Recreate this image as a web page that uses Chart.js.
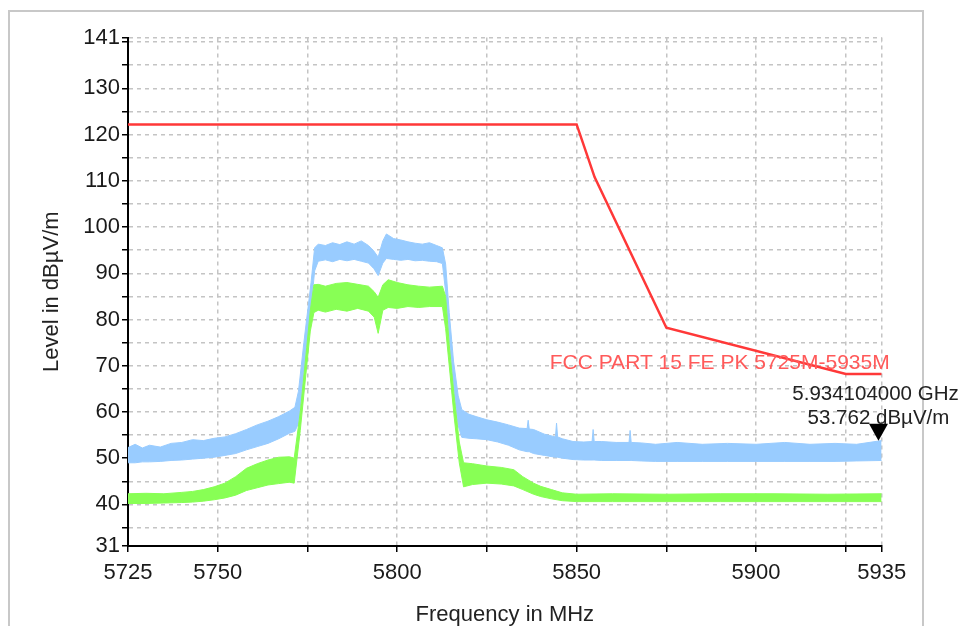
<!DOCTYPE html>
<html>
<head>
<meta charset="utf-8">
<script src="https://cdn.jsdelivr.net/npm/chart.js@4/dist/chart.umd.min.js"></script>
<style>
  html, body { margin: 0; padding: 0; background: #fff; }
  #wrap { position: relative; width: 966px; height: 626px; overflow: hidden; }
  #frame { position: absolute; left: 8px; top: 10px; width: 912px; height: 700px; border: 2px solid #c8c8c8; }
  canvas { position: absolute; left: 0; top: 0; }
</style>
</head>
<body>
<div id="wrap">
  <div id="frame"></div>
  <canvas id="spectrum" width="966" height="626"></canvas>
</div>
<script>
// limit line (FCC part 15 peak mask)
const limitName = 'FCC PART 15 FE PK 5725M-5935M';
const limitFreq = [5725, 5850, 5855, 5875, 5925, 5935];
const limitLevel = [122.2, 122.2, 110.8, 78.2, 68.2, 68.2];

// blue trace, read as upper / lower edge of the noise band
const blueFreq = [5725, 5727, 5729, 5731, 5734, 5737, 5740, 5743, 5746, 5749, 5752, 5755, 5758, 5761, 5764, 5767, 5770,
  5771.5, 5772.5, 5774, 5776, 5777, 5778, 5780, 5782, 5784, 5786, 5788, 5790, 5792, 5793.5, 5794.7, 5796, 5797, 5799,
  5801, 5803, 5805, 5807, 5809, 5811, 5812.6, 5813.5, 5814.5, 5815.7, 5817, 5818, 5820, 5822, 5825, 5828, 5831, 5834,
  5836.2, 5836.5, 5836.8, 5838, 5841, 5844.1, 5844.4, 5844.7, 5846, 5849, 5852, 5854.3, 5854.6, 5854.9, 5857, 5861,
  5864.6, 5864.9, 5865.2, 5868, 5872, 5878, 5885, 5892, 5900, 5908, 5915, 5922, 5928, 5935];
const blueTop = [52.3, 53.0, 52.2, 52.8, 52.4, 53.2, 53.4, 54.0, 53.8, 54.3, 54.6, 55.3, 56.2, 57.2, 58.0, 59.0, 60.2,
  61.0, 64.5, 75.0, 88.0, 95.5, 96.3, 96.0, 96.6, 96.2, 96.8, 96.3, 97.0, 96.0, 94.8, 93.5, 97.0, 98.5, 97.5,
  97.2, 96.8, 96.5, 96.3, 96.6, 96.0, 95.5, 92.0, 81.5, 71.0, 63.5, 60.5, 59.5, 59.0, 58.3, 57.8, 57.2, 56.5,
  56.4, 58.2, 56.3, 56.2, 55.2, 54.6, 57.6, 54.6, 54.2, 53.6, 53.5, 53.6, 56.2, 53.6, 53.6, 53.4,
  53.4, 56.0, 53.4, 53.3, 53.0, 53.4, 53.0, 53.2, 53.0, 53.4, 53.0, 53.2, 53.0, 53.8];
const blueBottom = [49.0, 49.0, 49.2, 49.2, 49.3, 49.5, 49.6, 49.8, 50.0, 50.2, 50.6, 51.0, 51.8, 52.5, 53.2, 54.2, 55.4,
  55.8, 57.5, 68.5, 82.5, 90.5, 92.6, 92.9, 92.5, 93.0, 92.7, 93.0, 92.6, 92.2, 91.0, 89.5, 92.2, 93.2, 93.0,
  92.8, 93.0, 92.7, 92.8, 92.6, 92.5, 92.1, 86.0, 76.0, 65.5, 57.0, 54.5, 54.3, 54.2, 54.0, 53.5, 52.8, 51.8,
  51.4, 51.4, 51.4, 51.0, 50.6, 50.2, 50.2, 50.2, 50.0, 49.7, 49.6, 49.6, 49.6, 49.6, 49.5, 49.5,
  49.5, 49.5, 49.5, 49.4, 49.3, 49.3, 49.3, 49.3, 49.3, 49.3, 49.3, 49.3, 49.4, 49.5];

// green trace, upper / lower edge of the noise band
const greenFreq = [5725, 5730, 5735, 5740, 5743, 5746, 5749, 5752, 5755, 5758, 5761, 5764, 5767, 5770, 5771.3,
  5773, 5774.8, 5775.8, 5776.8, 5778, 5780, 5783, 5786, 5789, 5792, 5793.6, 5794.7, 5796, 5797.5, 5800, 5803,
  5806, 5809, 5812.6, 5813.5, 5814.5, 5815.8, 5817.3, 5818.5, 5821, 5825, 5829, 5832.5, 5835, 5838, 5840, 5843,
  5846, 5850, 5860, 5875, 5890, 5905, 5920, 5935];
const greenTop = [42.3, 42.4, 42.3, 42.6, 42.8, 43.2, 43.8, 44.6, 46.0, 47.8, 48.8, 49.6, 50.2, 50.3, 50.0,
  60.0, 74.0, 82.0, 87.5, 87.6, 87.2, 87.8, 88.0, 87.6, 87.2, 86.0, 84.8, 87.5, 88.6, 88.0, 87.5,
  87.2, 87.0, 87.2, 85.0, 74.5, 64.0, 53.5, 49.0, 48.8, 48.3, 48.0, 47.5, 46.0, 44.6, 43.9, 43.2,
  42.5, 42.2, 42.3, 42.2, 42.3, 42.3, 42.2, 42.3];
const greenBottom = [40.2, 40.2, 40.3, 40.4, 40.5, 40.7, 41.0, 41.4, 42.0, 43.0, 43.6, 44.2, 44.5, 44.8, 44.6,
  56.0, 70.0, 77.5, 81.5, 82.0, 81.6, 82.2, 81.8, 82.4, 81.8, 80.5, 77.0, 82.0, 82.6, 82.4, 82.8,
  82.6, 82.8, 82.8, 78.0, 70.0, 59.5, 49.0, 43.8, 44.3, 44.6, 44.4, 44.0, 43.2, 42.2, 41.7, 41.2,
  40.8, 40.6, 40.6, 40.6, 40.6, 40.6, 40.6, 40.6];

// marker
const markerFreq = 5934.104;
const markerLevel = 53.762;

// axes
const xTickValues = [5725, 5750, 5775, 5800, 5825, 5850, 5875, 5900, 5925, 5935];
const xLabelValues = [5725, 5750, 5800, 5850, 5900, 5935];
const yTickValues = [31, 35, 40, 45, 50, 55, 60, 65, 70, 75, 80, 85, 90, 95, 100, 105, 110, 115, 120, 125, 130, 135, 140, 141];
const yLabelValues = [31, 40, 50, 60, 70, 80, 90, 100, 110, 120, 130, 141];

const FONT = '"Liberation Sans", Arial, sans-serif';
Chart.defaults.font.family = FONT;

function pts(xs, ys) {
  return xs.map((x, i) => ({ x: x, y: ys[i] }));
}

const annotations = {
  id: 'annotations',
  afterDatasetsDraw(chart) {
    const { ctx, scales: { x, y } } = chart;
    ctx.save();
    ctx.textBaseline = 'middle';
    // limit line name
    ctx.font = '21px ' + FONT;
    ctx.fillStyle = '#ff5a5a';
    ctx.textAlign = 'right';
    const lx = x.getPixelForValue(limitFreq[limitFreq.length - 1]);
    const ly = y.getPixelForValue(limitLevel[limitLevel.length - 1]);
    ctx.fillText(limitName, lx + 8, ly - 11);
    // marker triangle + readout
    const mx = x.getPixelForValue(markerFreq);
    const my = y.getPixelForValue(markerLevel);
    ctx.fillStyle = '#000';
    ctx.beginPath();
    ctx.moveTo(mx, my);
    ctx.lineTo(mx - 9.5, my - 17);
    ctx.lineTo(mx + 9.5, my - 17);
    ctx.closePath();
    ctx.fill();
    ctx.font = '20.5px ' + FONT;
    ctx.fillStyle = '#222';
    ctx.textAlign = 'center';
    ctx.fillText((markerFreq / 1000).toFixed(9) + ' GHz', mx - 3, my - 46);
    ctx.fillText(markerLevel.toFixed(3) + ' dB\u00b5V/m', mx, my - 22);
    ctx.restore();
  }
};

new Chart(document.getElementById('spectrum'), {
  type: 'line',
  data: {
    datasets: [
      { label: 'limit', data: pts(limitFreq, limitLevel), borderColor: '#ff3838', borderWidth: 2.5, pointRadius: 0, fill: false },
      { label: 'green low', data: pts(greenFreq, greenBottom), borderColor: '#88ff55', backgroundColor: '#88ff55', borderWidth: 1, pointRadius: 0, fill: false },
      { label: 'green high', data: pts(greenFreq, greenTop), borderColor: '#88ff55', backgroundColor: '#88ff55', borderWidth: 1, pointRadius: 0, fill: 1 },
      { label: 'blue low', data: pts(blueFreq, blueBottom), borderColor: '#99ccff', backgroundColor: '#99ccff', borderWidth: 1, pointRadius: 0, fill: false },
      { label: 'blue high', data: pts(blueFreq, blueTop), borderColor: '#99ccff', backgroundColor: '#99ccff', borderWidth: 1, pointRadius: 0, fill: 3 }
    ]
  },
  options: {
    responsive: false,
    animation: false,
    events: [],
    layout: { padding: { top: 37.5, right: 84.3, bottom: 0, left: 0 } },
    plugins: { legend: { display: false }, tooltip: { enabled: false } },
    scales: {
      x: {
        type: 'linear',
        min: 5725,
        max: 5935,
        afterBuildTicks: s => { s.ticks = xTickValues.map(v => ({ value: v })); },
        afterFit: s => { s.height = 80; },
        ticks: {
          autoSkip: false, maxRotation: 0, padding: 8, color: '#1a1a1a',
          font: { size: 22 },
          callback: v => xLabelValues.includes(v) ? String(v) : ''
        },
        grid: { color: '#c4c4c4', lineWidth: 1.5, tickLength: 6, tickColor: '#000', tickWidth: 1.5 },
        border: { display: true, color: '#000', width: 2, dash: [4, 4] },
        title: { display: true, text: 'Frequency in MHz', color: '#222', font: { size: 22, lineHeight: 1 }, padding: 0 }
      },
      y: {
        type: 'linear',
        min: 31,
        max: 141,
        afterBuildTicks: s => { s.ticks = yTickValues.map(v => ({ value: v })); },
        afterFit: s => { s.width = 128; },
        ticks: {
          autoSkip: false, padding: 2, color: '#1a1a1a',
          font: { size: 22 },
          callback: v => yLabelValues.includes(v) ? String(v) : ''
        },
        grid: { color: '#c4c4c4', lineWidth: 1.5, tickLength: 6, tickColor: '#000', tickWidth: 1.5 },
        border: { display: true, color: '#000', width: 2, dash: [4, 4] },
        title: { display: true, text: 'Level in dB\u00b5V/m', color: '#222', font: { size: 22 }, padding: { top: 39, bottom: 0 } }
      }
    }
  },
  plugins: [annotations]
});
</script>
</body>
</html>
